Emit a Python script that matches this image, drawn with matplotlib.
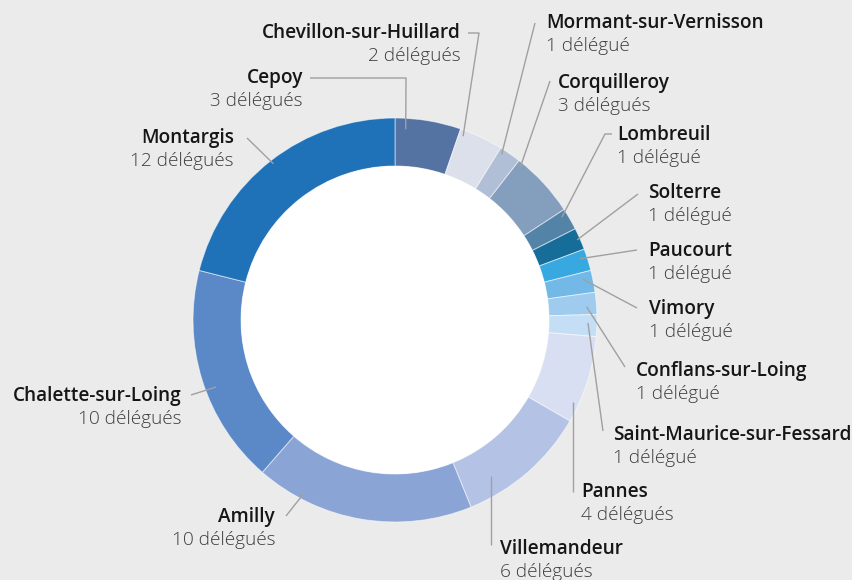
import numpy as np
import matplotlib
matplotlib.use("Agg")
import matplotlib.pyplot as plt
from matplotlib.patches import Circle

# ---------------- data ----------------
communes = ["Cepoy", "Chevillon-sur-Huillard", "Mormant-sur-Vernisson", "Corquilleroy",
            "Lombreuil", "Solterre", "Paucourt", "Vimory", "Conflans-sur-Loing",
            "Saint-Maurice-sur-Fessard", "Pannes", "Villemandeur", "Amilly",
            "Chalette-sur-Loing", "Montargis"]
delegues = [3, 2, 1, 3, 1, 1, 1, 1, 1, 1, 4, 6, 10, 10, 12]
colors = ["#5472a2", "#dce0ea", "#b0bfd6", "#849fbd", "#5384a8", "#176d99",
          "#37a9e0", "#73b9e7", "#9ecbee", "#c3def5", "#d9dff3", "#b4c3e5",
          "#8aa5d5", "#5b89c7", "#1f72b8"]

# ---------------- layout (pixels, y from top) ----------------
W, H = 852, 580
CX, CY = 395, 320
R_OUT, R_IN = 202, 154

# label: (x, baseline y, ha)
label_pos = [(303, 83, "right"), (461, 38, "right"), (546, 28, "left"), (558, 88, "left"),
             (617, 140, "left"), (648, 198, "left"), (648, 256, "left"), (649, 314, "left"),
             (636, 376, "left"), (613, 440, "left"), (581, 497, "left"), (500, 554, "left"),
             (275, 522, "right"), (182, 401, "right"), (234, 143, "right")]
# leader path points on label side (start, optional elbow)
leader_pts = [[(310, 78), (406, 78)], [(468, 33), (479, 33)], [(535, 23)], [(550, 81)],
              [(612, 134), (605, 134)], [(638, 194)], [(637, 250)], [(637, 308)],
              [(625, 367)], [(603, 431)], [(None, 492)], [(None, 545)],
              [(286, 516)], [(191, 395)], [(247, 138)]]
# anchor within slice: fraction of angular span, radius in px
anchor_frac = [0.17, 0.11, 0.19, 0.08, 0.24, 0.49, 0.35, 0.30, 0.62, 0.39, 0.79, 0.75, 0.79, 0.45, 0.50]
anchor_r = [191, 196, 197, 197, 196, 199, 195, 192, 192, 193, 196, 183, 197, 191, 198]

fig = plt.figure(figsize=(W / 100, H / 100), dpi=100)
fig.patch.set_facecolor("#ebebeb")
ax = fig.add_axes([0, 0, 1, 1])
ax.set_facecolor("#ebebeb")

wedges, _ = ax.pie(delegues, colors=colors, startangle=90, counterclock=False,
                   center=(CX, H - CY), radius=R_OUT,
                   wedgeprops=dict(width=R_OUT - R_IN, edgecolor=(1, 1, 1, 0.55), linewidth=0.7))
ax.add_patch(Circle((CX, H - CY), R_IN, facecolor="white", edgecolor="none", zorder=3))
ax.set_xlim(0, W)
ax.set_ylim(0, H)
ax.set_aspect("equal")
ax.axis("off")

FONT = "Open Sans"
FS = 13.7
line_col = "#a0a0a0"
for i, w in enumerate(wedges):
    # wedge goes clockwise: theta2 is the start, theta1 the end
    a = np.deg2rad(w.theta2 - (w.theta2 - w.theta1) * anchor_frac[i])
    ax_x = CX + anchor_r[i] * np.cos(a)
    ax_y = (H - CY) + anchor_r[i] * np.sin(a)
    pts = []
    for (px, py) in leader_pts[i]:
        pts.append((ax_x if px is None else px, H - py))
    pts.append((ax_x, ax_y))
    xs, ys = zip(*pts)
    ax.plot(xs, ys, color=line_col, lw=1.0, zorder=4, solid_capstyle="butt")

    lx, ly, ha = label_pos[i]
    ax.text(lx, H - ly, communes[i], ha=ha, va="baseline", fontsize=FS,
            family=FONT, fontweight="semibold", color="#161616", zorder=5)
    n = delegues[i]
    sub = f"{n} délégué" + ("s" if n > 1 else "")
    ax.text(lx, H - ly - 23, sub, ha=ha, va="baseline", fontsize=FS,
            family=FONT, fontweight="light", color="#3e3e3e", zorder=5)

fig.savefig("out.png", dpi=100, facecolor=fig.get_facecolor())
